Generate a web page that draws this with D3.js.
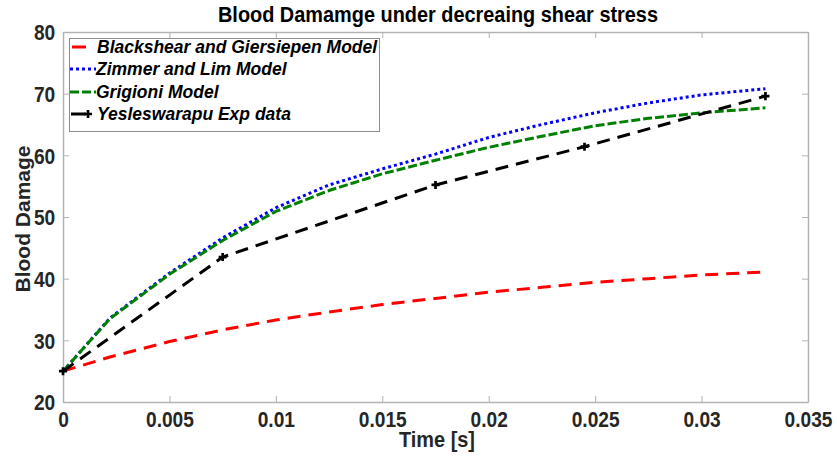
<!DOCTYPE html>
<html>
<head>
<meta charset="utf-8">
<script src="https://cdn.jsdelivr.net/npm/d3@7"></script>
<style>
  body { margin: 0; background: #fff; }
  .lab { font-family: "Liberation Sans", Arial, sans-serif; font-weight: bold; }
</style>
</head>
<body>
<div id="chart"></div>
<script>
// model time samples
const modelTime = [0, 0.0022, 0.005, 0.0075, 0.01, 0.0125, 0.015, 0.0175, 0.02, 0.0225, 0.025, 0.0275, 0.03, 0.033];
const blackshear = [25, 27.3, 29.8, 31.7, 33.3, 34.6, 35.8, 36.8, 37.8, 38.6, 39.4, 40.0, 40.6, 41.1];
const zimmer = [25, 33.6, 40.9, 46.6, 51.5, 55.2, 57.8, 60.2, 62.9, 65.0, 66.9, 68.5, 69.8, 70.8];
const grigioni = [25, 33.5, 40.7, 46.2, 50.9, 54.3, 57.0, 59.2, 61.3, 63.1, 64.8, 66.0, 66.9, 67.7];
// experimental data
const expTime = [0, 0.0075, 0.0175, 0.0245, 0.033];
const expDamage = [25, 43.5, 55.2, 61.4, 69.6];

const xTicks = [0, 0.005, 0.01, 0.015, 0.02, 0.025, 0.03, 0.035];
const xTickLabels = ["0", "0.005", "0.01", "0.015", "0.02", "0.025", "0.03", "0.035"];
const yTicks = [20, 30, 40, 50, 60, 70, 80];

const seriesNames = ["Blackshear and Giersiepen Model", "Zimmer and Lim Model", "Grigioni Model", "Yesleswarapu Exp data"];

function init() {
  var margin = { top: 32, right: 29, bottom: 55, left: 63 },
    totalW = 837, totalH = 457,
    width = totalW - margin.left - margin.right,
    height = totalH - margin.top - margin.bottom;

  var svg = d3.select("#chart").append("svg")
    .attr("width", totalW).attr("height", totalH)
    .style("background", "#fff");

  var g = svg.append("g")
    .attr("transform", "translate(" + margin.left + "," + margin.top + ")");

  var x = d3.scaleLinear().domain([0, 0.035]).range([0, width]);
  var y = d3.scaleLinear().domain([20, 80]).range([height, 0]);

  // axes (ticks inward, box on)
  var axisColor = "#b3b3b3";
  var xb = g.append("g").attr("transform", "translate(0," + height + ")")
    .call(d3.axisBottom(x).tickValues(xTicks).tickSizeInner(-6).tickSizeOuter(0)
      .tickFormat(function (d, i) { return xTickLabels[i]; }));
  var xt = g.append("g")
    .call(d3.axisTop(x).tickValues(xTicks).tickSizeInner(-6).tickSizeOuter(0).tickFormat(""));
  var yl = g.append("g")
    .call(d3.axisLeft(y).tickValues(yTicks).tickSizeInner(-6).tickSizeOuter(0));
  var yr = g.append("g").attr("transform", "translate(" + width + ",0)")
    .call(d3.axisRight(y).tickValues(yTicks).tickSizeInner(-6).tickSizeOuter(0).tickFormat(""));

  [xb, xt, yl, yr].forEach(function (a) {
    a.select(".domain").attr("stroke", axisColor).attr("stroke-width", 1.5);
    a.selectAll(".tick line").attr("stroke", axisColor);
  });
  // condensed look for tick labels
  xb.selectAll(".tick text").attr("class", "lab").attr("fill", "#262626")
    .style("font-size", "22px").attr("y", 9).attr("dy", "0.72em")
    .attr("transform", "scale(0.87,1)");
  yl.selectAll(".tick text").attr("class", "lab").attr("fill", "#262626")
    .style("font-size", "22px").attr("x", -9).attr("dy", "0.36em")
    .attr("transform", "scale(0.87,1)");

  // lines
  var line = d3.line()
    .x(function (d) { return x(d[0]); })
    .y(function (d) { return y(d[1]); });

  var series = [
    { data: d3.zip(modelTime, blackshear), color: "#ff0000", dash: "13,8" },
    { data: d3.zip(modelTime, zimmer), color: "#0000ff", dash: "3,3" },
    { data: d3.zip(modelTime, grigioni), color: "#008000", dash: "9,3" },
    { data: d3.zip(expTime, expDamage), color: "#000000", dash: "13,8" }
  ];

  g.selectAll(".series").data(series).enter().append("path")
    .attr("class", "series")
    .attr("fill", "none")
    .attr("stroke", function (d) { return d.color; })
    .attr("stroke-width", 3)
    .attr("stroke-dasharray", function (d) { return d.dash; })
    .attr("d", function (d) { return line(d.data); });

  // markers for experimental data
  var plus = d3.symbol().type(d3.symbolCross).size(36);
  g.selectAll(".marker").data(d3.zip(expTime, expDamage)).enter().append("path")
    .attr("class", "marker")
    .attr("transform", function (d) { return "translate(" + x(d[0]) + "," + y(d[1]) + ")"; })
    .attr("d", plus)
    .attr("fill", "#000");

  // title and labels
  svg.append("text").attr("class", "lab")
    .attr("x", 438).attr("y", 22).attr("text-anchor", "middle")
    .style("font-size", "22.5px").attr("fill", "#000")
    .attr("textLength", 440).attr("lengthAdjust", "spacingAndGlyphs")
    .text("Blood Damamge under decreaing shear stress");

  svg.append("text").attr("class", "lab")
    .attr("x", 437).attr("y", 447).attr("text-anchor", "middle")
    .style("font-size", "22px").attr("fill", "#262626")
    .attr("textLength", 76).attr("lengthAdjust", "spacingAndGlyphs")
    .text("Time [s]");

  svg.append("text").attr("class", "lab")
    .attr("transform", "translate(30,219) rotate(-90)")
    .attr("text-anchor", "middle")
    .style("font-size", "21px").attr("fill", "#262626")
    .text("Blood Damage");

  // legend
  var leg = svg.append("g");
  leg.append("rect")
    .attr("x", 69.5).attr("y", 38.5).attr("width", 310).attr("height", 93)
    .attr("fill", "#fff").attr("stroke", "#8c8c8c").attr("stroke-width", 1);

  var rowY = [52, 74, 97, 119];
  var tokens = [
    { x1: 72, x2: 86, dash: null },
    { x1: 70, x2: 96, dash: "3,3" },
    { x1: 70, x2: 96, dash: "9,3" },
    { x1: 71, x2: 86, dash: null }
  ];
  seriesNames.forEach(function (name, i) {
    leg.append("line")
      .attr("x1", tokens[i].x1).attr("x2", tokens[i].x2)
      .attr("y1", rowY[i] - 5).attr("y2", rowY[i] - 5)
      .attr("stroke", series[i].color).attr("stroke-width", 3)
      .attr("stroke-dasharray", tokens[i].dash);
    if (i === 3) {
      leg.append("path")
        .attr("transform", "translate(88," + (rowY[i] - 5) + ")")
        .attr("d", plus).attr("fill", "#000");
    }
    leg.append("text").attr("class", "lab")
      .attr("x", i === 0 || i === 3 ? 97 : 96).attr("y", rowY[i] + 1)
      .style("font-style", "italic")
      .style("font-size", "17.5px").attr("fill", "#000")
      .text(name);
  });
}

window.onload = init;
</script>
</body>
</html>
